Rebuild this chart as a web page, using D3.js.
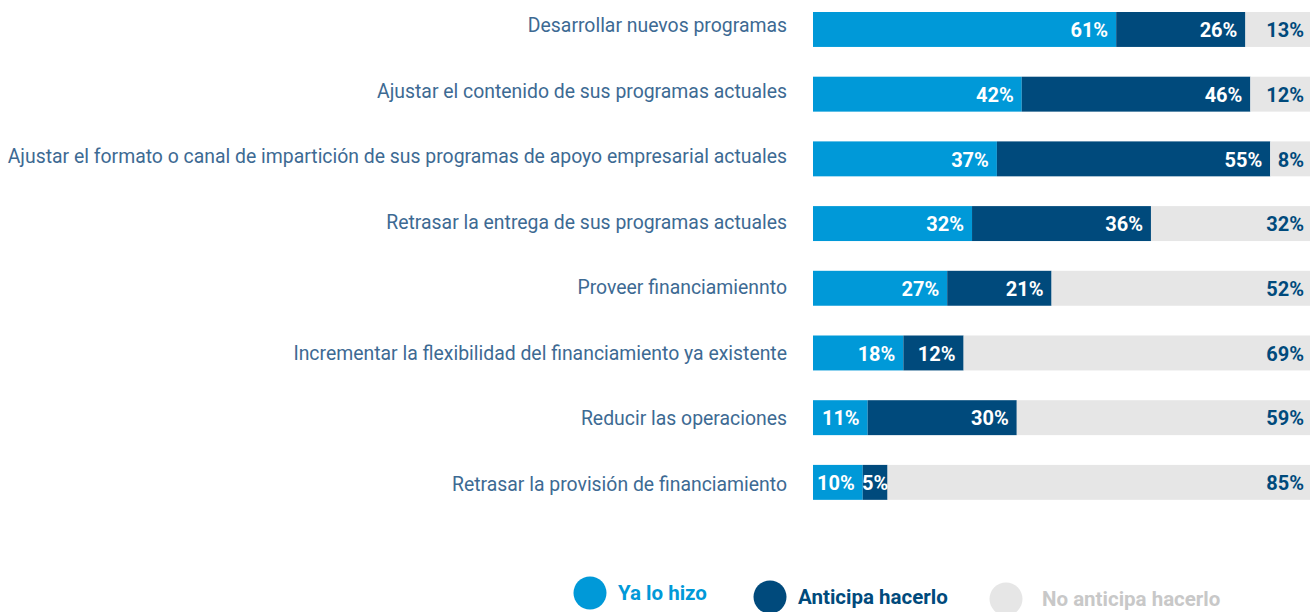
<!DOCTYPE html>
<html>
<head>
<meta charset="utf-8">
<script src="https://cdn.jsdelivr.net/npm/d3@7"></script>
<style>
  body { margin: 0; background: #fff; }
  svg { display: block; font-family: Roboto, "Noto Sans", sans-serif; }
</style>
</head>
<body>
<div id="chart"></div>
<script>
// Categorias y valores (%)
const categories = [
  "Desarrollar nuevos programas",
  "Ajustar el contenido de sus programas actuales",
  "Ajustar el formato o canal de impartición de sus programas de apoyo empresarial actuales",
  "Retrasar la entrega de sus programas actuales",
  "Proveer financiamiennto",
  "Incrementar la flexibilidad del financiamiento ya existente",
  "Reducir las operaciones",
  "Retrasar la provisión de financiamiento"
];
const yaLoHizo = [61, 42, 37, 32, 27, 18, 11, 10];
const anticipa = [26, 46, 55, 36, 21, 12, 30, 5];
const noAnticipa = [13, 12, 8, 32, 52, 69, 59, 85];

const seriesNames = ["Ya lo hizo", "Anticipa hacerlo", "No anticipa hacerlo"];
const seriesKeys = ["ya", "anticipa", "no"];
const colors = ["#0099d8", "#004a7c", "#e6e6e6"];
const labelColors = ["#ffffff", "#ffffff", "#004a7c"];
const legendText = ["#0099d8", "#004a7c", "#c8c8c8"];

const width = 1310, height = 612;
const margin = {top: 12, right: 0, left: 813};
const step = 64.7, padIn = 0.46;

const rows = categories.map((c, i) => ({
  cat: c, ya: yaLoHizo[i], anticipa: anticipa[i], no: noAnticipa[i]
}));

// cada fila normalizada a 100%
const stack = d3.stack().keys(seriesKeys).offset(d3.stackOffsetExpand);
const series = stack(rows);

const svg = d3.select("#chart").append("svg")
  .attr("width", width).attr("height", height);

const x = d3.scaleLinear().domain([0, 1]).range([margin.left, width - margin.right]);
const y = d3.scaleBand().domain(categories)
  .range([margin.top, margin.top + step * (categories.length - padIn)])
  .paddingInner(padIn).paddingOuter(0);

// las etiquetas van un poco mas espaciadas que las barras
const yLabel = d3.scalePoint().domain(categories).range([32.3, 490.7]);

// etiquetas de categoria
svg.append("g").selectAll("text")
  .data(categories)
  .join("text")
  .attr("x", 787)
  .attr("y", d => yLabel(d))
  .attr("text-anchor", "end")
  .attr("fill", "#3d6a93")
  .style("font-size", "19.4px")
  .text(d => d);

// barras
const groups = svg.append("g").selectAll("g")
  .data(series)
  .join("g")
  .attr("fill", (d, i) => colors[i]);

groups.selectAll("rect")
  .data(d => d.map(v => ({v, key: d.key})))
  .join("rect")
  .attr("x", d => x(d.v[0]))
  .attr("y", d => y(d.v.data.cat))
  .attr("width", d => x(d.v[1]) - x(d.v[0]))
  .attr("height", y.bandwidth());

// valores
series.forEach((s, si) => {
  const g = svg.append("g");
  s.forEach(v => {
    const val = v.data[s.key];
    const x0 = x(v[0]), x1 = x(v[1]);
    const t = g.append("text")
      .attr("y", y(v.data.cat) + y.bandwidth() / 2)
      .attr("dy", "0.39em")
      .attr("fill", labelColors[si])
      .style("font-size", "20px")
      .style("font-weight", "bold")
      .text(val + "%");
    const tw = t.node().getComputedTextLength();
    if (x1 - x0 < tw + 10) {
      t.attr("x", (x0 + x1) / 2).attr("text-anchor", "middle");
    } else {
      t.attr("x", si === 2 ? x1 - 6 : x1 - 8).attr("text-anchor", "end");
    }
  });
});

// leyenda
const legendX = [590, 770, 1006];
const legendY = [593, 597, 599];
const legendTx = [28, 28, 36];
const legend = svg.append("g").selectAll("g")
  .data(seriesNames)
  .join("g")
  .attr("transform", (d, i) => `translate(${legendX[i]},${legendY[i]})`);

legend.append("circle")
  .attr("r", 16.5)
  .attr("fill", (d, i) => colors[i]);

legend.append("text")
  .attr("x", (d, i) => legendTx[i])
  .attr("dy", "0.35em")
  .attr("fill", (d, i) => legendText[i])
  .style("font-size", "20.5px")
  .style("font-weight", "bold")
  .text(d => d);
</script>
</body>
</html>
